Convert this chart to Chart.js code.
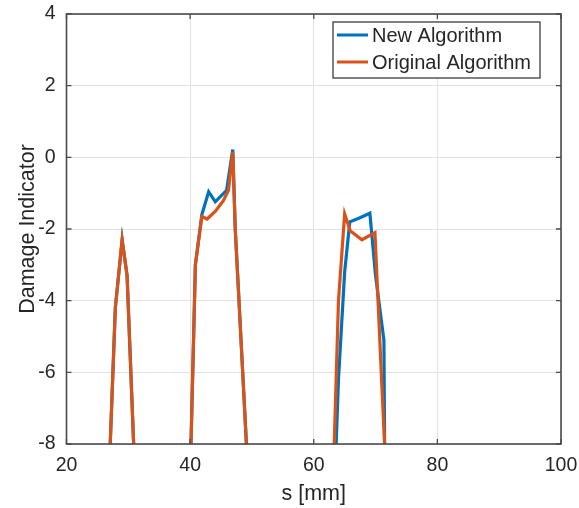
<!DOCTYPE html>
<html>
<head>
<meta charset="utf-8">
<script src="https://cdn.jsdelivr.net/npm/chart.js@4"></script>
<style>
  html, body { margin: 0; padding: 0; background: #fff; }
  #wrap { width: 579px; height: 508px; }
</style>
</head>
<body>
<div id="wrap"><canvas id="damageChart" width="579" height="508"></canvas></div>
<script>
// positions along the beam [mm] and damage indicator values, null = no line
const newS   = [26.9, 27.9, 29.0, 29.8, 31.0, 35, 40.0, 40.85, 41.9, 43.0, 44.07, 45.9, 46.9, 47.3, 49.5, 55, 63.0, 64.0, 65.0, 65.83, 67.3, 69.08, 70.0, 71.35, 71.7];
const newVal = [-8.8, -4.2, -2.3, -3.3, -8.6, null, -9.0, -3.0, -1.6, -0.96, -1.24, -0.92, 0.22, -2.0, -9.3, null, -11.0, -6.2, -3.2, -1.8, -1.7, -1.56, -3.3, -5.1, -14.0];

const origS   = [26.9, 27.9, 29.0, 29.8, 31.0, 35, 40.0, 40.85, 41.9, 42.75, 44.1, 45.4, 46.2, 46.9, 47.3, 49.5, 55, 63.0, 64.0, 65.0, 65.9, 67.8, 69.9, 71.0, 72.0];
const origVal = [-8.8, -4.2, -2.3, -3.3, -8.6, null, -9.0, -3.0, -1.65, -1.72, -1.5, -1.2, -0.92, 0.15, -2.0, -9.3, null, -9.8, -4.0, -1.58, -2.05, -2.3, -2.1, -6.3, -10.0];

const xTicks = [20, 40, 60, 80, 100];
const yTicks = [4, 2, 0, -2, -4, -6, -8];

const seriesNames = ['New Algorithm', 'Original Algorithm'];
const blue = '#0072BD';
const orange = '#D95319';
const ink = '#262626';
const fontFam = '"Liberation Sans", Arial, Helvetica, sans-serif';

function toPoints(xs, ys) {
  return xs.map(function (x, i) { return { x: x, y: ys[i] }; });
}

// box around the axes, inward ticks and the legend
const boxPlugin = {
  id: 'boxPlugin',
  afterDatasetsDraw(chart) {
    const ctx = chart.ctx;
    const a = chart.chartArea;
    const xs = chart.scales.x;
    const ys = chart.scales.y;
    ctx.save();
    ctx.strokeStyle = '#4a4a4a';
    ctx.lineWidth = 1.6;
    ctx.strokeRect(a.left, a.top, a.right - a.left, a.bottom - a.top);

    ctx.lineWidth = 1.3;
    ctx.beginPath();
    xTicks.forEach(function (t) {
      const px = xs.getPixelForValue(t);
      ctx.moveTo(px, a.bottom); ctx.lineTo(px, a.bottom - 5);
      ctx.moveTo(px, a.top); ctx.lineTo(px, a.top + 5);
    });
    yTicks.forEach(function (t) {
      const py = ys.getPixelForValue(t);
      ctx.moveTo(a.left, py); ctx.lineTo(a.left + 5, py);
      ctx.moveTo(a.right, py); ctx.lineTo(a.right - 5, py);
    });
    ctx.stroke();

    // legend
    const lx = 333, ly = 22, lw = 207, lh = 56;
    ctx.fillStyle = '#fff';
    ctx.fillRect(lx, ly, lw, lh);
    ctx.strokeStyle = '#4a4a4a';
    ctx.lineWidth = 1.4;
    ctx.strokeRect(lx, ly, lw, lh);
    const colors = [blue, orange];
    ctx.font = '20px ' + fontFam;
    ctx.textBaseline = 'middle';
    ctx.textAlign = 'left';
    seriesNames.forEach(function (name, i) {
      const y = 35 + i * 27;
      ctx.strokeStyle = colors[i];
      ctx.lineWidth = 3;
      ctx.beginPath();
      ctx.moveTo(337, y); ctx.lineTo(368, y);
      ctx.stroke();
      ctx.fillStyle = ink;
      ctx.fillText(name, 372, y + 1);
    });
    ctx.restore();
  }
};

new Chart(document.getElementById('damageChart'), {
  type: 'line',
  data: {
    datasets: [
      {
        label: seriesNames[0],
        data: toPoints(newS, newVal),
        borderColor: blue,
        borderWidth: 3.2,
        pointRadius: 0,
        tension: 0,
        spanGaps: false,
        clip: 0,
        order: 1
      },
      {
        label: seriesNames[1],
        data: toPoints(origS, origVal),
        borderColor: orange,
        borderWidth: 3.2,
        pointRadius: 0,
        tension: 0,
        spanGaps: false,
        clip: 0,
        order: 0
      }
    ]
  },
  options: {
    responsive: false,
    animation: false,
    layout: { padding: { top: 14, right: 18, left: 0, bottom: 0 } },
    plugins: { legend: { display: false }, tooltip: { enabled: false } },
    scales: {
      x: {
        type: 'linear',
        min: 20,
        max: 100,
        afterFit: function (scale) {
          scale.height = 64;
          scale.paddingLeft = 0;
          scale.paddingRight = 0;
        },
        ticks: { stepSize: 20, padding: 10, color: ink, font: { family: fontFam, size: 19.5 } },
        grid: { color: '#e2e2e2', lineWidth: 1, drawTicks: false },
        border: { display: false },
        title: {
          display: true,
          text: 's [mm]',
          color: ink,
          font: { family: fontFam, size: 21.5 },
          padding: { top: 0, bottom: 1 }
        }
      },
      y: {
        min: -8,
        max: 4,
        afterFit: function (scale) {
          scale.width = 66.5;
          scale.paddingTop = 0;
          scale.paddingBottom = 0;
        },
        ticks: { stepSize: 2, padding: 11, color: ink, font: { family: fontFam, size: 19.5 } },
        grid: { color: '#e2e2e2', lineWidth: 1, drawTicks: false },
        border: { display: false },
        title: {
          display: true,
          text: 'Damage Indicator',
          color: ink,
          font: { family: fontFam, size: 21.5 },
          padding: { top: 15, bottom: 0 }
        }
      }
    }
  },
  plugins: [boxPlugin]
});
</script>
</body>
</html>
